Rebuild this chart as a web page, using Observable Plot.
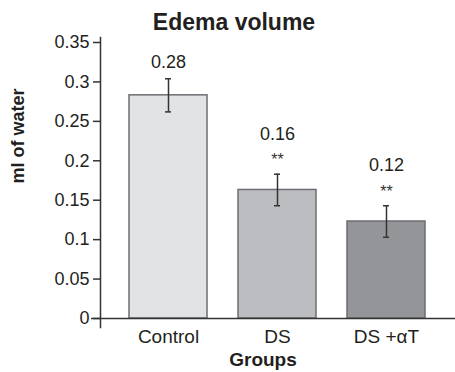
<!DOCTYPE html>
<html><head><meta charset="utf-8">
<script src="https://cdn.jsdelivr.net/npm/d3@7"></script>
<script src="https://cdn.jsdelivr.net/npm/@observablehq/plot@0.6"></script>
<style>body{margin:0;background:#fff;} svg{font-family:"Liberation Sans",Arial,sans-serif;}</style>
</head><body><div id="chart"></div>
<script>
const groups = ["Control", "DS", "DS +\u03b1T"];
const means = [0.283, 0.163, 0.123];
const errors = [0.021, 0.020, 0.020];
const valueLabels = ["0.28", "0.16", "0.12"];
const stars = ["", "**", "**"];
const fills = ["#e2e3e5", "#bcbdc0", "#939598"];
const yTicks = [0, 0.05, 0.1, 0.15, 0.2, 0.25, 0.3, 0.35];
const yTickLabels = ["0", "0.05", "0.1", "0.15", "0.2", "0.25", "0.3", "0.35"];
const title = "Edema volume";
const yTitle = "ml of water";
const xTitle = "Groups";

const data = groups.map((g, i) => ({g, m: means[i], e: errors[i], lab: valueLabels[i], s: stars[i], f: fills[i]}));
const plain = data.filter(d => !d.s);
const starred = data.filter(d => d.s);

const chart = Plot.plot({
  width: 455, height: 372,
  marginLeft: 100, marginRight: 0, marginTop: 42, marginBottom: 54,
  style: {fontFamily: '"Liberation Sans", Arial, sans-serif', fontSize: "18px", color: "#231f20"},
  x: {domain: groups, paddingInner: 0.282, paddingOuter: 0.255, label: null},
  y: {domain: [0, 0.35], label: null},
  marks: [
    Plot.barY(data, {x: "g", y: "m", fill: "f", stroke: "#6d6e71", strokeWidth: 1.5}),
    Plot.ruleX(data, {x: "g", y1: d => d.m - d.e, y2: d => d.m + d.e, stroke: "#333", strokeWidth: 1.5}),
    Plot.tickY(data, {x: "g", y: d => d.m + d.e, stroke: "#333", strokeWidth: 1.5, insetLeft: 36, insetRight: 36}),
    Plot.tickY(data, {x: "g", y: d => d.m - d.e, stroke: "#333", strokeWidth: 1.5, insetLeft: 36, insetRight: 36}),
    Plot.text(plain, {x: "g", y: d => d.m + d.e, text: "lab", fontSize: 18, fill: "#231f20", dy: -17}),
    Plot.text(starred, {x: "g", y: d => d.m + d.e, text: "lab", fontSize: 18, fill: "#231f20", dy: -40}),
    Plot.text(starred, {x: "g", y: d => d.m + d.e, text: "s", fontSize: 16, fill: "#333", dy: -14}),
    Plot.ruleY([0], {stroke: "#333", strokeWidth: 1.5, insetLeft: -9}),
    Plot.frame({anchor: "left", stroke: "#333", strokeWidth: 1.5, insetTop: -5, insetBottom: -9}),
    Plot.axisY({ticks: yTicks, tickFormat: (d) => yTickLabels[yTicks.indexOf(d)], tickSize: 7, tickPadding: 4, fontSize: 18, stroke: "#333", strokeWidth: 1.5, label: null}),
    Plot.axisX({tickSize: 0, tickPadding: 11, fontSize: 19, label: null}),
    Plot.text([title], {frameAnchor: "top", dx: -44, dy: -29, fontSize: 23, fontWeight: "bold", fill: "#231f20"}),
    Plot.text([yTitle], {frameAnchor: "left", rotate: -90, dx: -82, dy: 3, fontSize: 18, fontWeight: "bold", fill: "#231f20"}),
    Plot.text([xTitle], {frameAnchor: "bottom", dx: -15, dy: 47, fontSize: 19, fontWeight: "bold", fill: "#231f20"})
  ]
});
document.getElementById("chart").appendChild(chart);
</script></body></html>
